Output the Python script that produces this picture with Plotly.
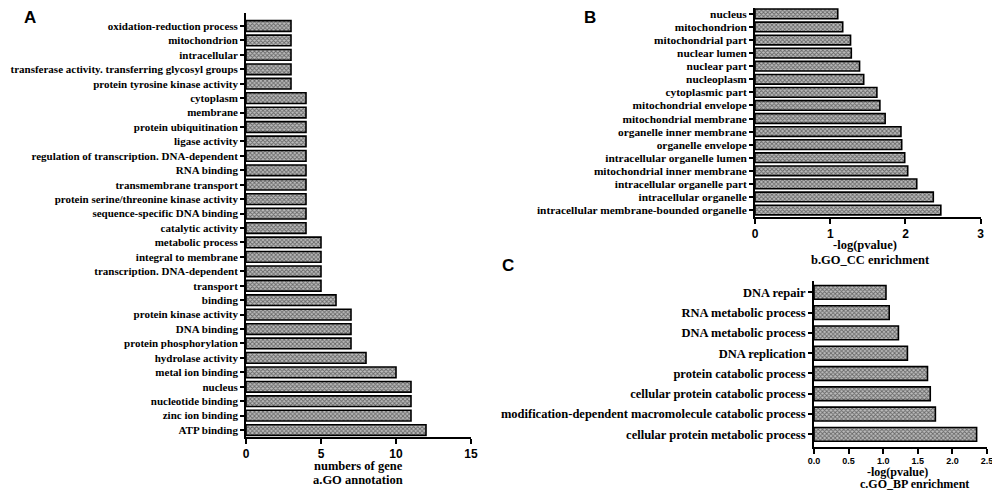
import plotly.graph_objects as go

# panel A: GO annotation (bottom to top)
go_terms = [
    "ATP binding", "zinc ion binding", "nucleotide binding", "nucleus",
    "metal ion binding", "hydrolase activity", "protein phosphorylation",
    "DNA binding", "protein kinase activity", "binding", "transport",
    "transcription. DNA-dependent", "integral to membrane", "metabolic process",
    "catalytic activity", "sequence-specific DNA binding",
    "protein serine/threonine kinase activity", "transmembrane transport",
    "RNA binding", "regulation of transcription. DNA-dependent",
    "ligase activity", "protein ubiquitination", "membrane", "cytoplasm",
    "protein tyrosine kinase activity",
    "transferase activity. transferring glycosyl groups", "intracellular",
    "mitochondrion", "oxidation-reduction process",
]
go_counts = [12, 11, 11, 11, 10, 8, 7, 7, 7, 6, 5, 5, 5, 5,
             4, 4, 4, 4, 4, 4, 4, 4, 4, 4, 3, 3, 3, 3, 3]

# panel B: GO_CC enrichment (bottom to top)
cc_terms = [
    "intracellular membrane-bounded organelle", "intracellular organelle",
    "intracellular organelle part", "mitochondrial inner membrane",
    "intracellular organelle lumen", "organelle envelope",
    "organelle inner membrane", "mitochondrial membrane",
    "mitochondrial envelope", "cytoplasmic part", "nucleoplasm",
    "nuclear part", "nuclear lumen", "mitochondrial part", "mitochondrion",
    "nucleus",
]
cc_values = [2.47, 2.37, 2.15, 2.03, 1.99, 1.95, 1.94, 1.73,
             1.66, 1.62, 1.445, 1.39, 1.28, 1.27, 1.166, 1.10]

# panel C: GO_BP enrichment (bottom to top)
bp_terms = [
    "cellular protein metabolic process",
    "modification-dependent macromolecule catabolic process",
    "cellular protein catabolic process", "protein catabolic process",
    "DNA replication", "DNA metabolic process", "RNA metabolic process",
    "DNA repair",
]
bp_values = [2.35, 1.754, 1.68, 1.64, 1.35, 1.22, 1.087, 1.04]

serif = "Liberation Serif"
sans = "Liberation Sans"

# the page has an 8px body margin, so the figure is a bit smaller than the window
W, H, OFF = 992, 485, 8

def fx(px):
    return (px - OFF) / W

def fy(py):
    return 1 - (py - OFF) / H

bar_marker = dict(
    color="#7a7a7a",
    line=dict(color="black", width=1.6),
    pattern=dict(shape="x", size=3, solidity=0.5, fgcolor="#111111", bgcolor="#bdbdbd"),
)

fig = go.Figure()
fig.add_trace(go.Bar(x=go_counts, y=go_terms, orientation="h", marker=bar_marker,
                     width=0.74, xaxis="x", yaxis="y", showlegend=False))
fig.add_trace(go.Bar(x=cc_values, y=cc_terms, orientation="h", marker=bar_marker,
                     width=0.74, xaxis="x2", yaxis="y2", showlegend=False))
fig.add_trace(go.Bar(x=bp_values, y=bp_terms, orientation="h", marker=bar_marker,
                     width=0.68, xaxis="x3", yaxis="y3", showlegend=False))

xcommon = dict(showline=True, linecolor="black", linewidth=1.8, ticks="outside",
               ticklen=5, tickwidth=1.8, tickcolor="black", showgrid=False,
               zeroline=False, automargin=False, ticklabeloverflow="allow",
               tickfont=dict(family=sans, size=12, color="black", weight="bold"))
ycommon = dict(showline=True, linecolor="black", linewidth=1.8, ticks="outside",
               ticklen=4, tickwidth=1.5, tickcolor="black", showgrid=False,
               zeroline=False, type="category", automargin=False, tickmode="array",
               tickfont=dict(family=serif, size=11.4, color="black", weight="bold"))

fig.update_layout(
    width=W, height=H,
    margin=dict(l=0, r=0, t=0, b=0),
    paper_bgcolor="white", plot_bgcolor="white",
    xaxis=dict(xcommon, domain=[fx(246), fx(471)], range=[0, 15], tickvals=[0, 5, 10, 15],
               anchor="y"),
    yaxis=dict(ycommon, domain=[fy(436.7), fy(13)], range=[-0.46, 28.9], anchor="x",
               tickvals=go_terms),
    xaxis2=dict(xcommon, domain=[fx(755), fx(980.7)], range=[0, 3], tickvals=[0, 1, 2, 3],
                anchor="y2"),
    yaxis2=dict(ycommon, domain=[fy(216.7), 1], range=[-0.51, 15.45], anchor="x2",
                tickvals=cc_terms),
    xaxis3=dict(xcommon, domain=[fx(814), fx(987)], range=[0, 2.5],
                tickvals=[0, 0.5, 1, 1.5, 2, 2.5],
                ticktext=["0.0", "0.5", "1.0", "1.5", "2.0", "2.5"],
                anchor="y3"),
    yaxis3=dict(ycommon, domain=[fy(446.7), fy(281)], range=[-0.61, 7.56], anchor="x3",
                tickvals=bp_terms),
)
fig.update_layout(yaxis_tickfont=dict(family=serif, size=11, color="black", weight="bold"),
                  xaxis3_tickfont=dict(family=sans, size=9, color="black", weight="bold"),
                  yaxis3_tickfont=dict(family=serif, size=12.5, color="black", weight="bold"))

def note(text, x, y, size=12.5, family=serif):
    fig.add_annotation(text=text, x=fx(x), y=fy(y), xref="paper", yref="paper",
                       showarrow=False, xanchor="center", yanchor="middle",
                       font=dict(family=family, size=size, color="black", weight="bold"))

note("numbers of gene", 358, 466)
note("a.GO annotation", 358, 480)
note("-log(pvalue)", 865, 245)
note("b.GO_CC enrichment", 870, 260)
note("-log(pvalue)", 897, 472, size=12)
note("c.GO_BP enrichment", 914, 484, size=12)
note("A", 30, 17, size=17, family=sans)
note("B", 590, 17, size=17, family=sans)
note("C", 508, 265, size=17, family=sans)

fig.write_html("out.html")
